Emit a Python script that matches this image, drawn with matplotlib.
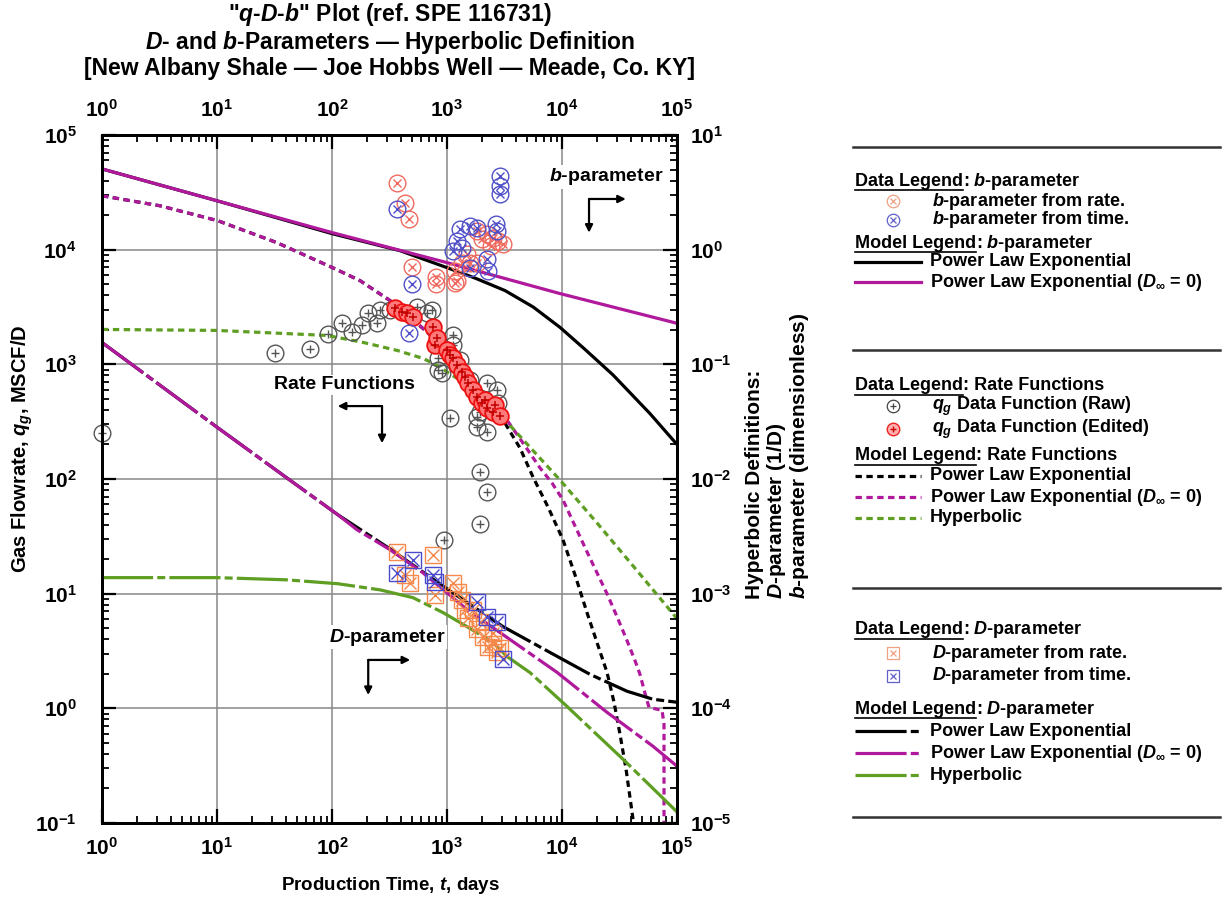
import matplotlib
matplotlib.use("Agg")
import matplotlib.pyplot as plt
from matplotlib.lines import Line2D

plt.rcParams['font.family'] = ['Liberation Sans', 'DejaVu Sans']
plt.rcParams['font.weight'] = 'bold'
plt.rcParams['mathtext.fontset'] = 'custom'
plt.rcParams['mathtext.rm'] = 'Liberation Sans:bold'
plt.rcParams['mathtext.it'] = 'Liberation Sans:italic:bold'
plt.rcParams['mathtext.bf'] = 'Liberation Sans:bold'

MAGENTA = '#b0199c'
GREEN = '#5e9e22'

# ---- rate data (left axis, MSCF/D) ----
t_raw = [1, 32, 64, 92, 122, 149, 182, 206, 246, 261, 319, 548, 670, 741, 835, 835,
         905, 942, 1062, 1127, 1127, 1300, 1585, 1824, 1824, 1936, 1936, 1936, 2228,
         2228, 2228, 2722, 2776]
q_raw = [251, 1247, 1350, 1824, 2274, 1897, 2183, 2776, 2274, 2950, 2950, 3131, 2776,
         2950, 1127, 887, 835, 29.5, 339, 1786, 1463, 1083, 726, 283, 346, 115, 383,
         40.6, 77, 256, 684, 594, 458]
t_edit = [353, 406, 449, 506, 755, 787, 818, 1000, 1060, 1127, 1222, 1349, 1435, 1523,
          1683, 1824, 2015, 2140, 2228, 2512, 2600, 2890]
q_edit = [3069, 2833, 2776, 2563, 2098, 1463, 1683, 1324, 1200, 1127, 980, 852, 771,
          684, 594, 517, 458, 486, 414, 383, 440, 353]

# ---- b-parameter data (right axis) ----
t_b_rate = [367, 431, 468, 496, 802, 802, 1175, 1349, 1824, 1824, 2228, 2512, 2776,
            3069, 2400, 2000, 1493, 1585, 1175, 1222]
b_rate = [3.83, 2.56, 1.86, 0.711, 0.572, 0.497, 0.516, 0.771, 0.771, 1.46, 1.38, 1.27,
          1.20, 1.13, 1.08, 1.25, 0.922, 0.771, 0.656, 0.537]
t_b_time = [367, 496, 468, 2890, 2890, 2890, 1300, 1585, 1824, 2650, 2722, 1222, 1127,
            1349, 1585, 2228, 2274]
b_time = [2.27, 0.497, 0.186, 4.40, 3.60, 3.07, 1.52, 1.62, 1.55, 1.68, 1.46, 1.20, 0.98,
          1.04, 0.697, 0.836, 0.656]

# ---- D-parameter data (right axis, 1/D) ----
t_D_rate = [367, 431, 477, 755, 787, 1127, 1247, 1349, 1435, 1523, 1936, 1824, 2056,
            2512, 2512, 2722, 2890, 2274, 1683]
D_rate = [2.32e-3, 1.46e-3, 1.25e-3, 2.18e-3, 9.8e-4, 1.25e-3, 1.04e-3, 8.87e-4, 7.26e-4,
          6.18e-4, 5.71e-4, 4.87e-4, 4.23e-4, 4.58e-4, 3.61e-4, 3.07e-4, 3.39e-4,
          3.46e-4, 7.26e-4]
t_D_time = [506, 367, 755, 787, 1824, 2722, 3069, 2228]
D_time = [1.98e-3, 1.52e-3, 1.46e-3, 1.27e-3, 8.51e-4, 5.71e-4, 2.67e-4, 6.31e-4]

# ---- model curves: rate functions ----
t_q_ple0 = [1, 3.19, 10.2, 33.2, 101, 175, 319, 618, 1000, 1936, 3325, 4581, 6438, 8185,
            10200, 12970, 16490, 20150, 24620, 30070, 36740, 43120, 47660, 52700, 57100,
            74100, 77090, 77100]
q_ple0 = [29500, 24150, 17870, 11510, 6970, 5375, 3603, 2056, 1324, 571, 326, 206, 125,
          92.3, 65.7, 39.0, 23.2, 15.2, 10.0, 6.31, 3.90, 2.61, 1.98, 1.35, 1.02, 0.96,
          0.726, 0.08]
t_q_ple = [1, 3.19, 10.2, 33.2, 101, 175, 319, 618, 1000, 1936, 3193, 4315, 5597, 7551,
           10200, 12970, 16490, 20150, 24620, 28340, 31940, 36040, 40620, 43120]
q_ple = [29500, 24150, 17870, 11510, 6970, 5375, 3603, 2056, 1324, 571, 307, 186, 104,
         57.1, 29.5, 14.6, 6.84, 3.75, 2.06, 1.13, 0.594, 0.295, 0.125, 0.080]
t_q_hyp = [1, 10, 90.5, 186, 367, 618, 818, 1297, 1936, 3325, 9610, 20150, 41420, 1e5]
q_hyp = [2015, 1976, 1786, 1553, 1324, 1127, 980, 726, 527, 313, 98, 41.4, 17.5, 6.06]

# ---- model curves: b-parameter ----
t_b_ple = [1, 10, 100, 390, 1000, 1778, 3193, 5623, 9610, 15850, 27740, 58200, 1e5]
b_ple = [5.06, 2.67, 1.38, 0.98, 0.697, 0.562, 0.44, 0.316, 0.21, 0.135, 0.0809, 0.0372,
         0.0200]
t_b_ple0 = [1, 10, 100, 1000, 9610, 1e5]
b_ple0 = [5.06, 2.67, 1.41, 0.771, 0.414, 0.228]

# ---- model curves: D-parameter ----
t_D_ple0 = [1, 10, 40.6, 113, 165, 319, 618, 1000, 1493, 3532, 9053, 24620, 61800, 1e5]
D_ple0 = [0.155, 0.0283, 0.0102, 4.86e-3, 3.61e-3, 2.42e-3, 1.52e-3, 1.02e-3, 7.26e-4,
          3.98e-4, 2.06e-4, 9.23e-5, 4.67e-5, 3.13e-5]
t_D_ple = [1, 10, 40.6, 113, 319, 1000, 3069, 7870, 17500, 36740, 61800, 1e5]
D_ple = [0.155, 0.0283, 0.0102, 4.86e-3, 2.46e-3, 1.10e-3, 5.16e-4, 3.07e-4, 1.98e-4,
         1.41e-4, 1.20e-4, 1.13e-4]
t_D_hyp = [1, 10, 40.6, 113, 261, 506, 923, 1493, 2512, 3325, 5270, 11050, 33900, 1e5]
D_hyp = [1.38e-3, 1.38e-3, 1.32e-3, 1.22e-3, 1.08e-3, 9.23e-4, 6.84e-4, 5.16e-4, 3.75e-4,
         2.83e-4, 2.05e-4, 1.04e-4, 3.6e-5, 1.25e-5]

# axis decades
x_major = [1, 10, 100, 1e3, 1e4, 1e5]
q_major = [0.1, 1, 10, 100, 1e3, 1e4, 1e5]
r_major = [1e-5, 1e-4, 1e-3, 1e-2, 1e-1, 1, 10]

DASH = (0, (2.0, 1.4))
DASHDOT = (0, (16, 1.3, 2.5, 1.3))
LW = 2.3


def minor_between(majors):
    return [m * d for d in majors[:-1] for m in range(2, 10)]


fig = plt.figure(figsize=(12.3, 9.08), dpi=100)
ax = fig.add_axes([102 / 1230, 1 - 823 / 908, 575 / 1230, 688 / 908])
ax.set_xscale('log')
ax.set_yscale('log')
ax.set_xticks(x_major)
ax.set_xticks(minor_between(x_major), minor=True)
ax.set_yticks(q_major)
ax.set_yticks(minor_between(q_major), minor=True)
ax.set_xlim(1, 1e5)
ax.set_ylim(0.1, 1e5)
ax.grid(True, which='major', color='#888888', lw=1.1)
ax2 = ax.twinx()
ax2.set_yscale('log')
ax2.set_yticks(r_major)
ax2.set_yticks(minor_between(r_major), minor=True)
ax2.set_ylim(1e-5, 10)

for a in (ax, ax2):
    a.tick_params(which='major', direction='in', length=10, width=1.6, labelsize=15)
    a.tick_params(which='minor', direction='in', length=5, width=1.3, labelleft=False,
                  labelright=False, labelbottom=False, labeltop=False)
    for s in a.spines.values():
        s.set_linewidth(2)
ax.tick_params(which='both', top=True, right=False)
ax.tick_params(which='major', labeltop=True)
ax.tick_params(axis='x', which='major', pad=10)
ax.tick_params(axis='y', which='major', pad=18)
ax2.tick_params(axis='y', which='major', pad=9)

# rate model curves
ax.plot(t_q_ple, q_ple, color='k', lw=LW, ls=DASH)
ax.plot(t_q_ple0, q_ple0, color=MAGENTA, lw=LW, ls=DASH)
ax.plot(t_q_hyp, q_hyp, color=GREEN, lw=LW, ls=DASH)

# rate data
ax.plot(t_raw, q_raw, 'o', ls='none', mfc='none', mec='#555555', ms=12, mew=1.0, clip_on=False)
ax.plot(t_raw, q_raw, '+', ls='none', color='#555555', ms=6, mew=1.0, clip_on=False)
ax.plot(t_edit, q_edit, 'o', ls='none', mfc='#ff7b7b', mec='#ee1111', ms=12, mew=1.3)
ax.plot(t_edit, q_edit, '+', ls='none', color='#c00000', ms=6, mew=1.1)

# b-parameter curves and data
ax2.plot(t_b_ple, b_ple, color='k', lw=LW)
ax2.plot(t_b_ple0, b_ple0, color=MAGENTA, lw=LW)
for tt, vv, col in ((t_b_rate, b_rate, '#f06a60'), (t_b_time, b_time, '#5050c8')):
    ax2.plot(tt, vv, 'o', ls='none', mfc='none', mec=col, ms=12, mew=1.0)
    ax2.plot(tt, vv, 'x', ls='none', color=col, ms=6, mew=1.0)

# D-parameter curves and data
ax2.plot(t_D_ple, D_ple, color='k', lw=LW, ls=DASHDOT)
ax2.plot(t_D_ple0, D_ple0, color=MAGENTA, lw=LW, ls=DASHDOT)
ax2.plot(t_D_hyp, D_hyp, color=GREEN, lw=LW, ls=DASHDOT)
for tt, vv, col in ((t_D_rate, D_rate, '#f5884a'), (t_D_time, D_time, '#4a4acc')):
    ax2.plot(tt, vv, 's', ls='none', mfc='none', mec=col, ms=12, mew=1.0)
    ax2.plot(tt, vv, 'x', ls='none', color=col, ms=8, mew=1.0)

# in-plot labels with corner arrows
bb = dict(facecolor='white', edgecolor='none', pad=1)
ax.text(0.877, 0.939, '$b$-parameter', transform=ax.transAxes, ha='center', va='center',
        fontsize=14, bbox=bb)
ax.text(0.421, 0.637, 'Rate Functions', transform=ax.transAxes, ha='center', va='center',
        fontsize=14, bbox=bb)
ax.text(0.497, 0.270, '$D$-parameter', transform=ax.transAxes, ha='center', va='center',
        fontsize=14, bbox=bb)
arr = dict(arrowstyle='-|>', color='k', lw=1.6, mutation_scale=11, shrinkA=0, shrinkB=0)
for corner, ends in (((0.847, 0.907), [(0.911, 0.907), (0.847, 0.858)]),
                     ((0.487, 0.606), [(0.410, 0.606), (0.487, 0.552)]),
                     ((0.463, 0.237), [(0.536, 0.237), (0.463, 0.186)])):
    for e in ends:
        ax.annotate('', xy=e, xytext=corner, xycoords='axes fraction',
                    textcoords='axes fraction', arrowprops=arr)

# titles and axis labels
def fx(px):
    return px / 1230

def fy(py):
    return 1 - py / 908

TFS = 16.5
fig.text(fx(390), fy(15), '"$q$-$D$-$b$" Plot (ref. SPE 116731)', ha='center', va='center', fontsize=TFS)
fig.text(fx(390), fy(42), '$D$- and $b$-Parameters \u2014 Hyperbolic Definition', ha='center',
         va='center', fontsize=TFS)
fig.text(fx(390), fy(68), '[New Albany Shale \u2014 Joe Hobbs Well \u2014 Meade, Co. KY]',
         ha='center', va='center', fontsize=TFS)
fig.text(fx(390), fy(885), 'Production Time, $t$, days', ha='center', va='center', fontsize=13.5)
fig.text(fx(22), fy(449), 'Gas Flowrate, $q_g$, MSCF/D', ha='center', va='center',
         rotation=90, fontsize=14.5)
fig.text(fx(778), fy(456), 'Hyperbolic Definitions:\n$D$-parameter (1/D)\n$b$-parameter (dimensionless)',
         ha='center', va='center', rotation=90, multialignment='left', fontsize=15,
         linespacing=1.05)

# legend panel
LFS = 13
for py in (147, 350, 588, 817):
    fig.add_artist(Line2D([fx(853), fx(1220)], [fy(py), fy(py)], color='#333333', lw=1.8,
                          transform=fig.transFigure))

fig.canvas.draw()
renderer = fig.canvas.get_renderer()

def header(py, word, rest):
    t = fig.text(fx(855), fy(py), word, ha='left', va='center', fontsize=LFS)
    ext = t.get_window_extent(renderer).transformed(fig.transFigure.inverted())
    fig.add_artist(Line2D([ext.x0, ext.x1], [ext.y0 - 0.001, ext.y0 - 0.001], color='k', lw=1.2,
                          transform=fig.transFigure))
    fig.text(ext.x1, fy(py), rest, ha='left', va='center', fontsize=LFS)

def marker_row(py, marker, inner, col, label, ms=9):
    fig.add_artist(Line2D([fx(893)], [fy(py)], marker=marker, mfc='none', mec=col, ms=ms,
                          mew=0.9, transform=fig.transFigure))
    fig.add_artist(Line2D([fx(893)], [fy(py)], marker=inner, color=col, ms=ms * 0.5,
                          mew=0.9, transform=fig.transFigure))
    fig.text(fx(932), fy(py), label, ha='left', va='center', fontsize=LFS)

def line_row(py, col, ls, label):
    fig.add_artist(Line2D([fx(855), fx(921)], [fy(py), fy(py)], color=col, lw=LW, ls=ls,
                          transform=fig.transFigure))
    fig.text(fx(930), fy(py), label, ha='left', va='center', fontsize=LFS)

PLE0 = 'Power Law Exponential ($D_\\infty$ = 0)'

header(181, 'Data Legend', ': $b$-parameter')
marker_row(201, 'o', 'x', '#f0a080', '$b$-parameter from rate.')
marker_row(220, 'o', 'x', '#6060c8', '$b$-parameter from time.')
header(243, 'Model Legend', ': $b$-parameter')
line_row(262, 'k', '-', 'Power Law Exponential')
line_row(282, MAGENTA, '-', PLE0)

header(386, 'Data Legend', ': Rate Functions')
marker_row(406, 'o', '+', '#444444', '$q_g$ Data Function (Raw)')
fig.add_artist(Line2D([fx(893)], [fy(429)], marker='o', mfc='#ffb0b0', mec='#ee2222', ms=9,
                      mew=1.0, transform=fig.transFigure))
fig.add_artist(Line2D([fx(893)], [fy(429)], marker='+', color='#cc0000', ms=5, mew=1.0,
                      transform=fig.transFigure))
fig.text(fx(932), fy(429), '$q_g$ Data Function (Edited)', ha='left', va='center', fontsize=LFS)
header(456, 'Model Legend', ': Rate Functions')
line_row(476, 'k', DASH, 'Power Law Exponential')
line_row(497, MAGENTA, DASH, PLE0)
line_row(518, GREEN, DASH, 'Hyperbolic')

header(630, 'Data Legend', ': $D$-parameter')
marker_row(653, 's', 'x', '#f0a080', '$D$-parameter from rate.')
marker_row(676, 's', 'x', '#6060c8', '$D$-parameter from time.')
header(709, 'Model Legend', ': $D$-parameter')
line_row(731, 'k', DASHDOT, 'Power Law Exponential')
line_row(753, MAGENTA, DASHDOT, PLE0)
line_row(775, GREEN, DASHDOT, 'Hyperbolic')

fig.savefig('out.png', dpi=100)
